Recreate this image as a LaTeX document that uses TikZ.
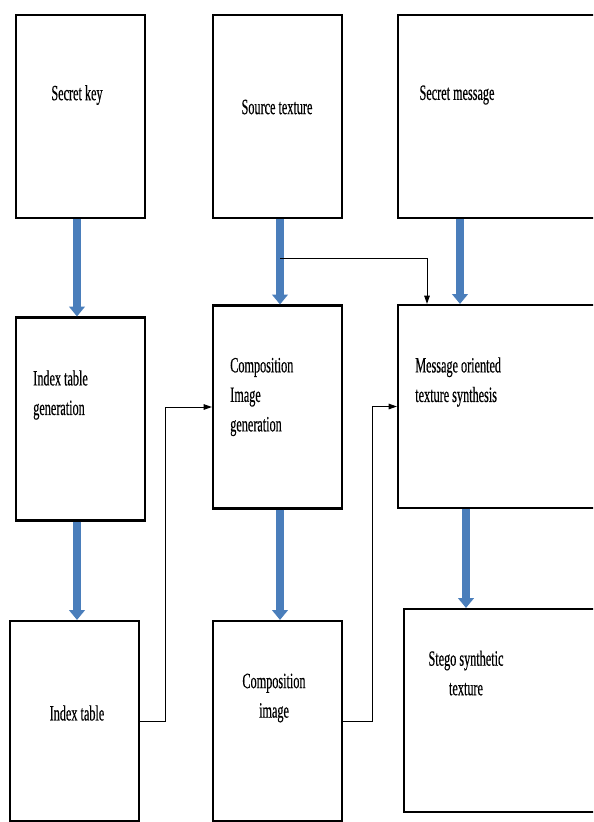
\documentclass[tikz,border=0pt]{standalone}
\usepackage{fontspec}
\newfontfamily\boxfont[FakeStretch=0.56, FakeBold=0.4]{Liberation Serif}
\usetikzlibrary{arrows.meta}

\definecolor{flowblue}{HTML}{4A7EBB}
\newlength\pxlen
\setlength\pxlen{0.025cm}

\tikzset{
  block/.style={draw, line width=1.5pt, inner sep=0pt,
    minimum width=129*\pxlen, minimum height=203*\pxlen},
  boxtext/.style={font=\boxfont\fontsize{15.5}{21}\selectfont, inner sep=0pt},
  flow/.style={draw=flowblue, line width=5pt, -{Triangle[width=11pt,length=7pt]}},
  link/.style={draw, line width=0.7pt, -{Triangle[width=4pt,length=6pt]}}
}

\begin{document}
\begin{tikzpicture}[x=0.025cm, y=-0.025cm]
\useasboundingbox (0,0) rectangle (593,822);
\clip (0,0) rectangle (593,822);

  % boxes
  \node[block] (key) at (80.5,116.5) {};
  \node[block] (src) at (277.5,116.5) {};
  \node[block, minimum width=202*\pxlen] (msg) at (499,116.5) {};
  \node[block] (itgen) at (80.5,419) {};
  \node[block] (cigen) at (277.5,407) {};
  \node[block, minimum width=202*\pxlen] (mots) at (499,406.5) {};
  \node[block, minimum height=200*\pxlen] (itab) at (74.5,721) {};
  \node[block, minimum height=200*\pxlen] (cimg) at (277.5,721) {};
  \node[block, minimum width=196*\pxlen] (stego) at (502,710.5) {};

  % texts
  \node[boxtext] (tkey) at (77,95) {Secret key};
  \node[boxtext] (tsrc) at (277,107) {Source texture};
  \node[boxtext] (tmsg) at (457,95) {Secret message};
  \node[boxtext, align=left, anchor=west] (titgen) at (33,395) {Index table\\generation};
  \node[boxtext, align=left, anchor=west] (tcigen) at (230,397) {Composition\\Image\\generation};
  \node[boxtext, align=left, anchor=west] (tmots) at (415,382) {Message oriented\\texture synthesis};
  \node[boxtext] (titab) at (77,713) {Index table};
  \node[boxtext, align=center] (tcimg) at (274,698) {Composition\\image};
  \node[boxtext, align=center] (tstego) at (466,673) {Stego synthetic\\texture};

  \coordinate (colA) at (77,0);
  \coordinate (colB) at (280,0);
  \coordinate (colC) at (460,0);
  \coordinate (colD) at (466,0);
  \coordinate (colE) at (427,0);
  \coordinate (riseA) at (165,0);
  \coordinate (riseB) at (372,0);
  \coordinate (tap) at (280,258);

    \foreach \a/\b/\c in {key/itgen/colA, itgen/itab/colA, src/cigen/colB,
                          cigen/cimg/colB, msg/mots/colC, mots/stego/colD} {%
      % blue flow arrows
      \draw[flow] (\a.south -| \c) -- (\b.north -| \c);
    }

  \draw[link] (tap) -| (mots.north -| colE);
  \draw[link] (itab.east) -- (itab.east -| riseA) |- (cigen.west);
  \draw[link] (cimg.east) -- (cimg.east -| riseB) |- (mots.west);
\end{tikzpicture}
\end{document}
